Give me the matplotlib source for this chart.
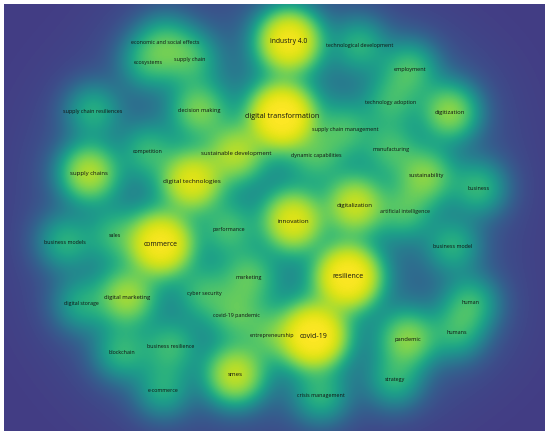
import numpy as np
import matplotlib
matplotlib.use("Agg")
import matplotlib.pyplot as plt

# keyword map (VOSviewer style density view)
labels = ["industry 4.0", "technological development", "economic and social effects",
          "supply chain", "ecosystems", "employment", "supply chain resiliences",
          "decision making", "digital transformation", "technology adoption", "digitization",
          "supply chain management", "competition", "sustainable development",
          "dynamic capabilities", "manufacturing", "supply chains", "digital technologies",
          "sustainability", "business", "digitalization", "artificial intelligence",
          "innovation", "performance", "sales", "business models", "commerce",
          "business model", "marketing", "resilience", "cyber security", "digital marketing",
          "digital storage", "covid-19 pandemic", "entrepreneurship", "business resilience",
          "blockchain", "smes", "e-commerce", "human", "covid-19", "humans", "pandemic",
          "strategy", "crisis management"]
map_x = [289, 360, 165, 190, 148, 410, 93, 199, 282, 391, 450, 345, 148, 236, 316, 391,
         89, 192, 426, 479, 355, 405, 293, 229, 115, 65, 161, 453, 249, 348, 204, 127,
         81, 236, 272, 171, 122, 235, 163, 471, 314, 457, 408, 395, 321]
map_y = [41, 45, 42, 59, 62, 69, 111, 110, 116, 102, 112, 130, 151, 153, 156, 149,
         173, 181, 176, 188, 205, 211, 221, 229, 235, 242, 244, 246, 277, 277, 293, 297,
         304, 315, 335, 347, 352, 375, 390, 303, 336, 332, 339, 380, 396]
weights = [75, 15, 15, 17, 15, 19, 15, 25, 100, 15, 31, 16, 15, 35, 15, 16,
           39, 55, 27, 17, 43, 17, 55, 16, 14, 15, 80, 15, 19, 90, 15, 33,
           13, 17, 16, 16, 16, 43, 14, 17, 95, 15, 29, 15, 15]

x0, x1, y0, y1 = 4, 545, 4, 431

fig = plt.figure(figsize=(5.5, 4.37), dpi=100)
ax = fig.add_axes([x0 / 550, 1 - y1 / 437, (x1 - x0) / 550, (y1 - y0) / 437])

# kernel density of the items: narrow core plus a faint wide halo
gx, gy = np.meshgrid(np.arange(x0, x1) + 0.5, np.arange(y0, y1) + 0.5)
dens = np.zeros_like(gx, dtype=float)
s1, s2 = 18.5, 42.0
for px, py, w in zip(map_x, map_y, weights):
    r2 = (gx - px) ** 2 + (gy - py) ** 2
    dens += w * (np.exp(-r2 / (2 * s1 ** 2)) + 0.07 * np.exp(-r2 / (2 * s2 ** 2)))
c = 1 - np.exp(-0.042 * dens)
c = c / c.max()
vals = 0.18 + 0.82 * c

ax.imshow(vals, cmap="viridis", vmin=0, vmax=1, extent=(x0, x1, y1, y0),
          interpolation="bilinear", aspect="auto")

wmax = max(weights)
for lab, px, py, w in zip(labels, map_x, map_y, weights):
    fs = 3.0 + 2.2 * np.sqrt(w / wmax)
    ax.text(px, py, lab, ha="center", va="center", fontsize=fs,
            family="Open Sans", color="#111111")

ax.set_xlim(x0, x1)
ax.set_ylim(y1, y0)
ax.axis("off")

fig.savefig("out.png", dpi=100, facecolor="white")
